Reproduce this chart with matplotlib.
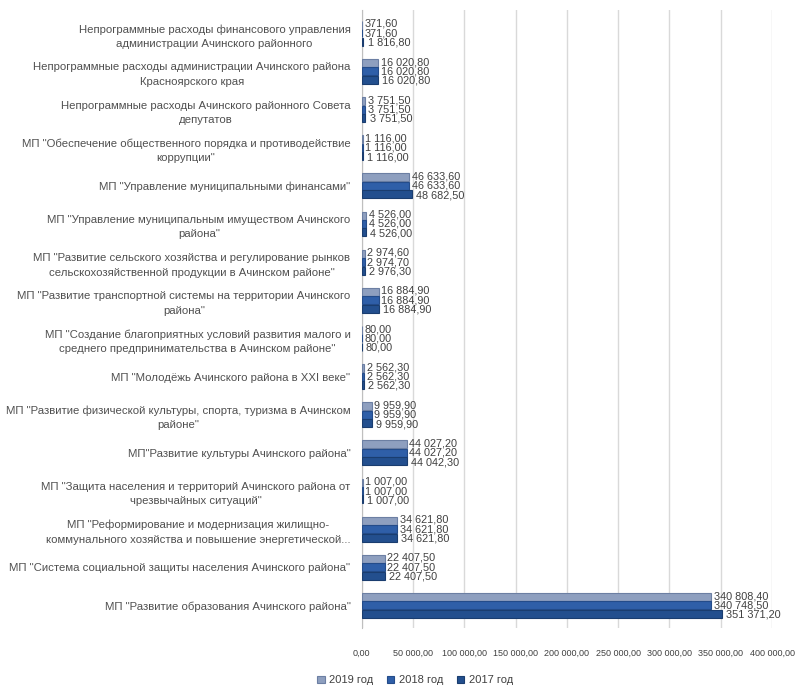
import numpy as np
import matplotlib
matplotlib.use("Agg")
import matplotlib.pyplot as plt
from matplotlib.ticker import FuncFormatter

plt.rcParams['font.family'] = ['Liberation Sans', 'DejaVu Sans']

# categories, bottom to top
categories = [
    'МП "Развитие образования Ачинского района"',
    'МП "Система социальной защиты населения Ачинского района"',
    'МП "Реформирование и модернизация жилищно-\nкоммунального хозяйства и повышение энергетической...',
    'МП "Защита населения и территорий Ачинского района от\nчрезвычайных ситуаций"',
    'МП"Развитие культуры Ачинского района"',
    'МП "Развитие физической культуры, спорта, туризма в Ачинском\nрайоне"',
    'МП "Молодёжь Ачинского района в XXI веке"',
    'МП "Создание благоприятных условий развития малого и\nсреднего предпринимательства в Ачинском районе"',
    'МП "Развитие транспортной системы на территории Ачинского\nрайона"',
    'МП "Развитие сельского хозяйства и регулирование рынков\nсельскохозяйственной продукции в Ачинском районе"',
    'МП "Управление муниципальным имуществом Ачинского\nрайона"',
    'МП "Управление муниципальными финансами"',
    'МП "Обеспечение общественного порядка и противодействие\nкоррупции"',
    'Непрограммные расходы Ачинского районного Совета\nдепутатов',
    'Непрограммные расходы администрации Ачинского района\nКрасноярского края',
    'Непрограммные расходы финансового управления\nадминистрации Ачинского районного',
]

y2019 = [340808.40, 22407.50, 34621.80, 1007.00, 44027.20, 9959.90, 2562.30, 80.00,
         16884.90, 2974.60, 4526.00, 46633.60, 1116.00, 3751.50, 16020.80, 371.60]
y2018 = [340748.50, 22407.50, 34621.80, 1007.00, 44027.20, 9959.90, 2562.30, 80.00,
         16884.90, 2974.70, 4526.00, 46633.60, 1116.00, 3751.50, 16020.80, 371.60]
y2017 = [351371.20, 22407.50, 34621.80, 1007.00, 44042.30, 9959.90, 2562.30, 80.00,
         16884.90, 2976.30, 4526.00, 48682.50, 1116.00, 3751.50, 16020.80, 1816.80]

series = [('2019 год', y2019, '#8e9fbf', '#6c7fa3'),
          ('2018 год', y2018, '#2f5fa8', '#244c8a'),
          ('2017 год', y2017, '#234f8e', '#1a3d6f')]


def fmt(v, pos=None):
    s = f'{v:,.2f}'.replace(',', ' ').replace('.', ',')
    return s


fig = plt.figure(figsize=(8, 6.92), dpi=100)
ax = fig.add_axes([0.452, 0.092, 0.513, 0.893])

y = np.arange(len(categories))
h = 0.22
offsets = [h, 0, -h]
for (name, vals, color, edge), off in zip(series, offsets):
    bars = ax.barh(y + off, vals, height=h * 0.95, color=color, edgecolor=edge,
                   linewidth=0.8, label=name, zorder=3)
    for b, v in zip(bars, vals):
        ax.text(v + 2500 + (off == -h) * 1500, b.get_y() + b.get_height() / 2 + off * 0.12,
                fmt(v), va='center', ha='left', fontsize=7.8, color='#404040',
                zorder=4)

ax.set_xlim(0, 400000)
ax.set_ylim(-0.6, len(categories) - 0.4)
ax.set_xticks(np.arange(0, 400001, 50000))
ax.xaxis.set_major_formatter(FuncFormatter(fmt))
ax.set_yticks(y)
ax.set_yticklabels(categories, fontsize=8.2, color='#505050', multialignment='center',
                   linespacing=1.55)
ax.tick_params(axis='y', length=0, pad=8)
ax.tick_params(axis='x', length=0, labelsize=6.5, colors='#404040', pad=15)
ax.grid(axis='x', color='#d9d9d9', linewidth=1, zorder=0)
for s in ['top', 'right', 'bottom']:
    ax.spines[s].set_visible(False)
ax.spines['left'].set_color('#bfbfbf')

ax.legend(loc='upper center', bbox_to_anchor=(0.13, -0.06), ncol=3, frameon=False,
          fontsize=8, labelcolor='#404040', handlelength=0.7, handleheight=0.7,
          columnspacing=1.2, handletextpad=0.4)

fig.savefig('out.png', dpi=100)
